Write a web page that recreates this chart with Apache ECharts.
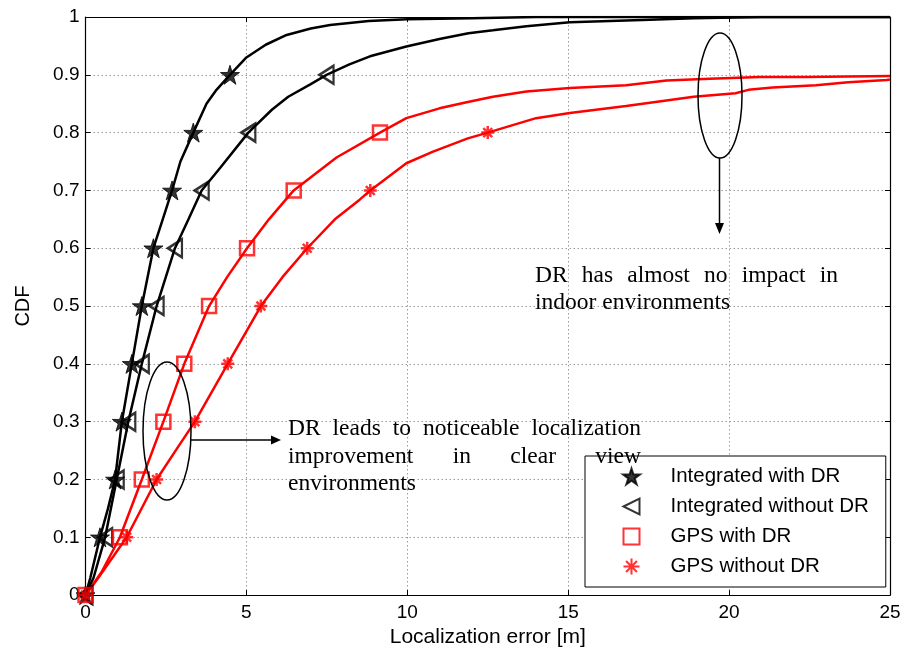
<!DOCTYPE html>
<html>
<head>
<meta charset="utf-8">
<script src="https://cdn.jsdelivr.net/npm/echarts@6/dist/echarts.min.js"></script>
<style>
html,body{margin:0;padding:0;background:#fff;}
#chart{width:906px;height:653px;}
</style>
</head>
<body>
<div id="chart"></div>
<script>
// ---------- data ----------
const seriesNames = ['Integrated with DR', 'Integrated without DR', 'GPS with DR', 'GPS without DR'];
const markLevels = [0, 0.1, 0.2, 0.3, 0.4, 0.5, 0.6, 0.7, 0.8, 0.9];

const intWithDR_markX    = [0, 0.45, 0.92, 1.13, 1.44, 1.75, 2.11, 2.69, 3.35, 4.49];
const intWithoutDR_markX = [0, 0.61, 0.97, 1.33, 1.75, 2.21, 2.78, 3.61, 5.06, 7.49];
const gpsWithDR_markX    = [0, 1.07, 1.75, 2.42, 3.07, 3.84, 5.02, 6.47, 9.15];
const gpsWithoutDR_markX = [0, 1.28, 2.21, 3.40, 4.42, 5.45, 6.89, 8.85, 12.5];

const intWithDR_curveX = [0, 0.15, 0.45, 0.7, 0.92, 1.13, 1.44, 1.75, 2.11, 2.4, 2.69, 2.95, 3.35, 3.76, 4.07, 4.49, 5.0, 5.6, 6.25, 7.0, 7.6, 8.8, 10, 12, 14, 25];
const intWithDR_curveY = [0, 0.03, 0.1, 0.15, 0.2, 0.3, 0.4, 0.5, 0.6, 0.65, 0.7, 0.75, 0.8, 0.85, 0.874, 0.9, 0.93, 0.952, 0.969, 0.98, 0.986, 0.993, 0.996, 0.998, 1, 1];

const intWithoutDR_curveX = [0, 0.25, 0.61, 0.97, 1.33, 1.75, 2.21, 2.78, 3.2, 3.61, 4.2, 5.06, 5.8, 6.3, 7.0, 7.49, 8.2, 8.84, 9.97, 11, 11.9, 12.66, 13.7, 15.05, 17.3, 18.9, 21, 25];
const intWithoutDR_curveY = [0, 0.03, 0.1, 0.2, 0.3, 0.4, 0.5, 0.6, 0.65, 0.7, 0.74, 0.8, 0.84, 0.862, 0.884, 0.9, 0.918, 0.932, 0.949, 0.962, 0.972, 0.977, 0.984, 0.991, 0.995, 0.998, 1, 1];

const gpsWithDR_curveX = [0, 0.5, 1.07, 1.75, 2.42, 3.07, 3.84, 4.4, 5.02, 5.7, 6.47, 7.8, 9.15, 9.97, 11, 11.88, 12.66, 13.7, 15.05, 16.8, 18.05, 19.4, 20.95, 22.4, 22.45, 25];
const gpsWithDR_curveY = [0, 0.04, 0.1, 0.2, 0.3, 0.4, 0.5, 0.55, 0.6, 0.65, 0.7, 0.757, 0.8, 0.825, 0.842, 0.853, 0.862, 0.871, 0.877, 0.882, 0.89, 0.893, 0.896, 0.896, 0.898, 0.898];

const gpsWithoutDR_curveX = [0, 0.4, 1.28, 2.21, 2.8, 3.40, 4.42, 5.45, 6.12, 6.89, 7.75, 8.52, 8.85, 9.97, 10.8, 11.88, 12.5, 14.0, 15.05, 16.8, 18.9, 20.2, 20.6, 21.35, 22.7, 23.7, 24.9, 25];
const gpsWithoutDR_curveY = [0, 0.03, 0.1, 0.2, 0.25, 0.3, 0.4, 0.5, 0.55, 0.6, 0.65, 0.684, 0.7, 0.747, 0.767, 0.79, 0.8, 0.825, 0.834, 0.846, 0.862, 0.868, 0.874, 0.878, 0.882, 0.887, 0.891, 0.892];

const note1Lines = [['DR', 'leads', 'to', 'noticeable', 'localization'], ['improvement', 'in', 'clear', 'view'], ['environments']];
const note2Lines = [['DR', 'has', 'almost', 'no', 'impact', 'in'], ['indoor environments']];

// ---------- helpers ----------
function pairs(xs, ys) { return xs.map((x, i) => [x, ys[i]]); }
function marks(xs) { return xs.map((x, i) => [x, markLevels[i]]); }

const STAR = 'path://M100,0L122.45,69.1L195.1,69.1L136.3,111.8L158.8,180.9L100,138.2L41.2,180.9L63.7,111.8L4.9,69.1L77.55,69.1Z';
const LTRI = 'path://M0,50L100,0L100,100Z';
const SQUARE = 'path://M0,0L100,0L100,100L0,100Z';
const ASTER = 'path://M0,50L100,50M50,0L50,100M16,16L84,84M84,16L16,84';

const serifFont = '23.5px "Liberation Serif"';
const cv = document.createElement('canvas').getContext('2d');
cv.font = serifFont;
function justifiedWords(words, left, right, baseline, justify) {
  const widths = words.map(w => cv.measureText(w).width);
  const total = widths.reduce((a, b) => a + b, 0);
  const space = cv.measureText(' ').width;
  const gap = (justify && words.length > 1) ? (right - left - total) / (words.length - 1) : space;
  const out = [];
  let x = left;
  words.forEach((w, i) => {
    out.push({
      type: 'text', x: x, y: baseline, z: 100,
      style: { text: w, font: serifFont, fill: '#000', textAlign: 'left', textVerticalAlign: 'alphabetic', verticalAlign: 'alphabetic' }
    });
    x += widths[i] + gap;
  });
  return out;
}

const graphics = [];
graphics.push(...justifiedWords(note1Lines[0], 288, 641, 417, true));
graphics.push(...justifiedWords(note1Lines[1], 288, 641, 444.5, true));
graphics.push(...justifiedWords(note1Lines[2], 288, 641, 472, false));
graphics.push(...justifiedWords(note2Lines[0], 535, 838, 263.5, true));
graphics.push(...justifiedWords(note2Lines[1], 535, 838, 290.5, false));
// ellipses and arrows
graphics.push({ type: 'ellipse', z: 100, shape: { cx: 167, cy: 431, rx: 24, ry: 69 }, style: { fill: 'none', stroke: '#000', lineWidth: 1.5 } });
graphics.push({ type: 'line', z: 100, shape: { x1: 191, y1: 440, x2: 272, y2: 440 }, style: { stroke: '#000', lineWidth: 1.5 } });
graphics.push({ type: 'polygon', z: 100, shape: { points: [[281, 440], [271, 435.5], [271, 444.5]] }, style: { fill: '#000' } });
graphics.push({ type: 'ellipse', z: 100, shape: { cx: 720, cy: 95.5, rx: 22, ry: 62.5 }, style: { fill: 'none', stroke: '#000', lineWidth: 1.5 } });
graphics.push({ type: 'line', z: 100, shape: { x1: 719.5, y1: 158, x2: 719.5, y2: 224 }, style: { stroke: '#000', lineWidth: 1.5 } });
graphics.push({ type: 'polygon', z: 100, shape: { points: [[719.5, 234], [715, 223], [724, 223]] }, style: { fill: '#000' } });

// ---------- chart ----------
const chart = echarts.init(document.getElementById('chart'), null, { renderer: 'canvas' });
const fontSans = 'Liberation Sans';
const gridLine = { show: true, lineStyle: { color: '#9a9a9a', width: 1, type: [1.5, 2.5] } };
const tick = { show: true, inside: true, length: 5, lineStyle: { color: '#000', width: 1 } };
const axLine = { show: true, onZero: false, lineStyle: { color: '#000', width: 1.2 } };

function curve(name, xs, ys, color) {
  return { name: name + ' curve', type: 'line', data: pairs(xs, ys), showSymbol: false, symbol: 'none',
    lineStyle: { color: color, width: 2.5 }, itemStyle: { color: color }, z: 3, silent: true, animation: false };
}
function markSeries(name, xs, symbol, size, style, z) {
  return { name: name, type: 'scatter', data: marks(xs), symbol: symbol, symbolSize: size, clip: false,
    itemStyle: style, z: z, animation: false };
}

const option = {
  backgroundColor: '#fff',
  animation: false,
  grid: { left: 85.5, right: 16, top: 17, bottom: 57.5, containLabel: false },
  xAxis: [
    { type: 'value', min: 0, max: 25, interval: 5, position: 'bottom',
      axisLine: axLine, axisTick: tick, splitLine: gridLine,
      axisLabel: { fontSize: 19, fontFamily: fontSans, color: '#000', margin: 8 },
      name: 'Localization error [m]', nameLocation: 'middle', nameGap: 26,
      nameTextStyle: { fontSize: 21, fontFamily: fontSans, color: '#000' } },
    { type: 'value', min: 0, max: 25, interval: 5, position: 'top',
      axisLine: axLine, axisTick: tick, splitLine: { show: false }, axisLabel: { show: false } }
  ],
  yAxis: [
    { type: 'value', min: 0, max: 1, interval: 0.1, position: 'left',
      axisLine: axLine, axisTick: tick, splitLine: gridLine,
      axisLabel: { fontSize: 19, fontFamily: fontSans, color: '#000', margin: 6 },
      name: 'CDF', nameLocation: 'middle', nameGap: 52,
      nameTextStyle: { fontSize: 20, fontFamily: fontSans, color: '#000' } },
    { type: 'value', min: 0, max: 1, interval: 0.1, position: 'right',
      axisLine: axLine, axisTick: tick, splitLine: { show: false }, axisLabel: { show: false } }
  ],
  legend: {
    show: true, orient: 'vertical', left: 585, top: 456,
    backgroundColor: '#fff', borderColor: '#000', borderWidth: 1, borderRadius: 0,
    padding: [10, 17, 10, 36], itemWidth: 68, itemHeight: 16, itemGap: 9,
    textStyle: { fontSize: 20.5, fontFamily: fontSans, color: '#000' },
    data: seriesNames, z: 50
  },
  series: [
    curve(seriesNames[0], intWithDR_curveX, intWithDR_curveY, '#000'),
    curve(seriesNames[1], intWithoutDR_curveX, intWithoutDR_curveY, '#000'),
    curve(seriesNames[2], gpsWithDR_curveX, gpsWithDR_curveY, '#ff0000'),
    curve(seriesNames[3], gpsWithoutDR_curveX, gpsWithoutDR_curveY, '#ff0000'),
    markSeries(seriesNames[0], intWithDR_markX, STAR, 19, { color: '#000', borderColor: '#000', borderWidth: 1 }, 6),
    markSeries(seriesNames[1], intWithoutDR_markX, LTRI, [14, 18], { color: 'none', borderColor: '#000', borderWidth: 2.5 }, 5),
    markSeries(seriesNames[2], gpsWithDR_markX, SQUARE, 14, { color: 'none', borderColor: '#ff0000', borderWidth: 2.5 }, 7),
    markSeries(seriesNames[3], gpsWithoutDR_markX, ASTER, 13, { color: 'none', borderColor: '#ff0000', borderWidth: 2.5 }, 8)
  ],
  graphic: graphics
};
chart.setOption(option);
</script>
</body>
</html>
